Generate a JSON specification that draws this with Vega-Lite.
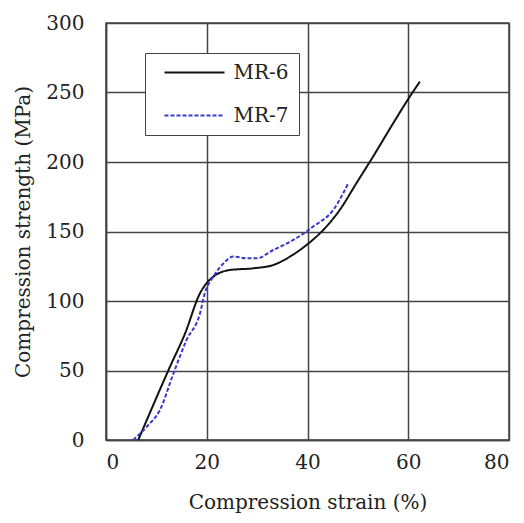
{
  "$schema": "https://vega.github.io/schema/vega-lite/v6.json",
  "width": 403,
  "height": 417,
  "autosize": {"type": "none"},
  "padding": {"left": 106, "top": 23, "right": 15, "bottom": 83},
  "background": "white",
  "config": {
    "view": {"stroke": "#444", "strokeWidth": 1.5},
    "font": "DejaVu Serif",
    "axis": {
      "labelFont": "DejaVu Serif",
      "titleFont": "DejaVu Serif",
      "labelFontSize": 20,
      "titleFontSize": 20,
      "titleFontWeight": "normal",
      "labelColor": "#222",
      "titleColor": "#222",
      "gridColor": "#444",
      "gridWidth": 1.5,
      "gridOpacity": 1,
      "domainColor": "#444",
      "domainWidth": 1.5,
      "ticks": false
    }
  },
  "data": {
    "values": [
      {"series": "MR-6", "x": 6.4, "y": 0},
      {"series": "MR-6", "x": 8.1, "y": 14.4},
      {"series": "MR-6", "x": 12.7, "y": 52.7},
      {"series": "MR-6", "x": 15.7, "y": 76.7},
      {"series": "MR-6", "x": 18.65, "y": 105.5},
      {"series": "MR-6", "x": 21.3, "y": 117.5},
      {"series": "MR-6", "x": 24.6, "y": 122.3},
      {"series": "MR-6", "x": 29.2, "y": 123.5},
      {"series": "MR-6", "x": 33.2, "y": 125.9},
      {"series": "MR-6", "x": 36.5, "y": 131.9},
      {"series": "MR-6", "x": 39.8, "y": 140.3},
      {"series": "MR-6", "x": 43.1, "y": 151},
      {"series": "MR-6", "x": 46.4, "y": 165.5},
      {"series": "MR-6", "x": 49.7, "y": 184.7},
      {"series": "MR-6", "x": 53, "y": 203.8},
      {"series": "MR-6", "x": 57, "y": 227.8},
      {"series": "MR-6", "x": 60.3, "y": 247},
      {"series": "MR-6", "x": 62.3, "y": 257.8},
      {"series": "MR-7", "x": 5.4, "y": 0},
      {"series": "MR-7", "x": 8.1, "y": 9.6},
      {"series": "MR-7", "x": 10.7, "y": 21.6},
      {"series": "MR-7", "x": 13.4, "y": 48},
      {"series": "MR-7", "x": 16, "y": 72},
      {"series": "MR-7", "x": 18.65, "y": 91},
      {"series": "MR-7", "x": 19.6, "y": 105.5},
      {"series": "MR-7", "x": 21.3, "y": 117.5},
      {"series": "MR-7", "x": 23.3, "y": 127},
      {"series": "MR-7", "x": 25.3, "y": 132},
      {"series": "MR-7", "x": 27.9, "y": 130.7},
      {"series": "MR-7", "x": 29.9, "y": 130.7},
      {"series": "MR-7", "x": 33.2, "y": 136.7},
      {"series": "MR-7", "x": 37.2, "y": 143.9},
      {"series": "MR-7", "x": 41.1, "y": 153.5},
      {"series": "MR-7", "x": 45.1, "y": 165.5},
      {"series": "MR-7", "x": 48.1, "y": 184.7}
    ]
  },
  "mark": {"type": "line", "interpolate": "monotone", "strokeWidth": 2},
  "encoding": {
    "x": {
      "field": "x", "type": "quantitative",
      "scale": {"domain": [0, 80], "nice": false},
      "axis": {"values": [0, 20, 40, 60, 80], "title": "Compression strain (%)", "labelPadding": 12, "titlePadding": 20}
    },
    "y": {
      "field": "y", "type": "quantitative",
      "scale": {"domain": [0, 300], "nice": false},
      "axis": {"values": [0, 50, 100, 150, 200, 250, 300], "title": "Compression strength (MPa)", "labelPadding": 22, "titlePadding": 12}
    },
    "color": {
      "field": "series", "type": "nominal",
      "scale": {"domain": ["MR-6", "MR-7"], "range": ["#111111", "#3a3ac8"]},
      "legend": {
        "title": null,
        "orient": "none",
        "legendX": 39,
        "legendY": 30,
        "symbolType": "M0,0H7.5",
        "symbolSize": 256,
        "symbolStrokeWidth": 2,
        "labelFont": "DejaVu Serif",
        "labelFontSize": 20,
        "labelColor": "#222",
        "strokeColor": "#444",
        "fillColor": "white",
        "padding": 9.5,
        "rowPadding": 23,
        "labelOffset": 59
      }
    },
    "strokeDash": {
      "field": "series", "type": "nominal",
      "scale": {"domain": ["MR-6", "MR-7"], "range": [[1, 0], [4, 2]]},
      "legend": null
    }
  }
}
